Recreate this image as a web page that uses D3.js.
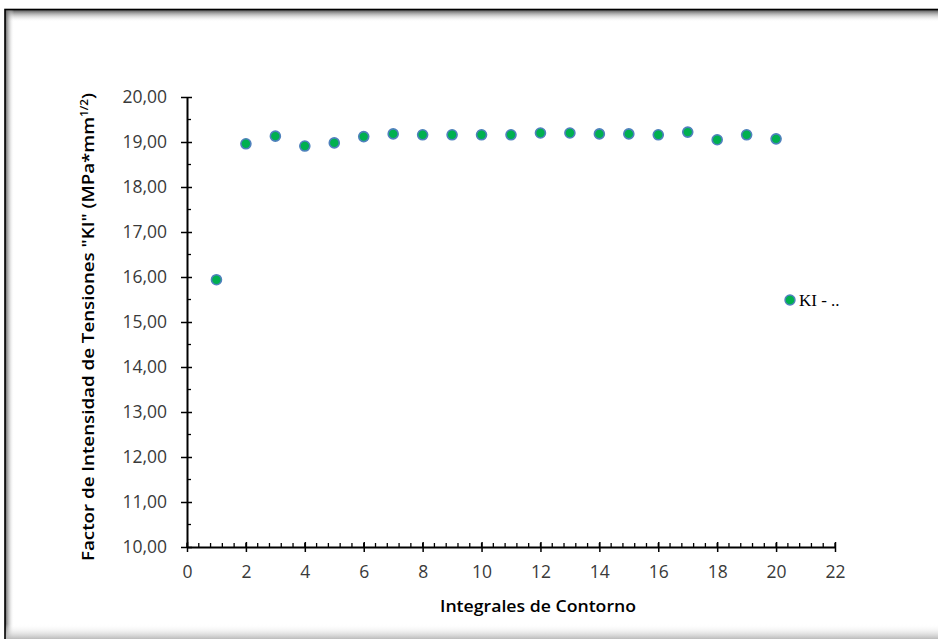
<!DOCTYPE html>
<html>
<head>
<meta charset="utf-8">
<script src="https://cdn.jsdelivr.net/npm/d3@7"></script>
<style>
  body { margin: 0; background: #fff; }
  svg { display: block; }
</style>
</head>
<body>
<svg id="chart"></svg>
<script>
// data
var contours = [1, 2, 3, 4, 5, 6, 7, 8, 9, 10, 11, 12, 13, 14, 15, 16, 17, 18, 19, 20];
var kiValues = [15.94, 18.96, 19.13, 18.91, 18.98, 19.12, 19.18, 19.16, 19.16, 19.16,
                19.16, 19.20, 19.20, 19.18, 19.18, 19.16, 19.22, 19.05, 19.16, 19.07];
var xTicks = [0, 2, 4, 6, 8, 10, 12, 14, 16, 18, 20, 22];
var yTicks = [10, 11, 12, 13, 14, 15, 16, 17, 18, 19, 20];
var seriesName = "KI - ..";

var W = 938, H = 639;
var margin = { top: 97, right: 103, bottom: 92, left: 187 },
  width = 835 - margin.left,
  height = 547 - margin.top;

var svg = d3.select("#chart").attr("width", W).attr("height", H);

// frame with soft inner shadow
var defs = svg.append("defs");
var gTop = defs.append("linearGradient").attr("id", "shTop").attr("x1", 0).attr("y1", 0).attr("x2", 0).attr("y2", 1);
gTop.append("stop").attr("offset", "0%").attr("stop-color", "#555");
gTop.append("stop").attr("offset", "100%").attr("stop-color", "#fff").attr("stop-opacity", 0);
var gLeft = defs.append("linearGradient").attr("id", "shLeft").attr("x1", 0).attr("y1", 0).attr("x2", 1).attr("y2", 0);
gLeft.append("stop").attr("offset", "0%").attr("stop-color", "#555");
gLeft.append("stop").attr("offset", "100%").attr("stop-color", "#fff").attr("stop-opacity", 0);
var gBot = defs.append("linearGradient").attr("id", "shBot").attr("x1", 0).attr("y1", 1).attr("x2", 0).attr("y2", 0);
gBot.append("stop").attr("offset", "0%").attr("stop-color", "#bbb");
gBot.append("stop").attr("offset", "100%").attr("stop-color", "#fff").attr("stop-opacity", 0);

svg.append("rect").attr("x", 5).attr("y", 10).attr("width", 940).attr("height", 12).attr("fill", "url(#shTop)");
svg.append("rect").attr("x", 5).attr("y", 10).attr("width", 9).attr("height", 640).attr("fill", "url(#shLeft)");
svg.append("rect").attr("x", 5).attr("y", 624).attr("width", 940).attr("height", 15).attr("fill", "url(#shBot)");
svg.append("rect").attr("x", 5).attr("y", 9.5).attr("width", 940).attr("height", 640)
  .attr("fill", "none").attr("stroke", "#000").attr("stroke-width", 1.6);

var g = svg.append("g")
  .attr("transform", "translate(" + margin.left + "," + margin.top + ")");

var x = d3.scaleLinear().domain([0, 22]).range([0, width]);
var y = d3.scaleLinear().domain([10, 20]).range([height, 0]);

var fmt = function (d) { return d3.format(".2f")(d).replace(".", ","); };

// minor ticks
g.append("g").selectAll("line")
  .data(d3.range(0, 22.001, 0.4))
  .join("line")
  .attr("x1", function (d) { return x(d); }).attr("x2", function (d) { return x(d); })
  .attr("y1", height).attr("y2", height - 4)
  .attr("stroke", "#000").attr("stroke-width", 1.3);
g.append("g").selectAll("line")
  .data(d3.range(10.5, 20, 1))
  .join("line")
  .attr("x1", 0).attr("x2", 4)
  .attr("y1", function (d) { return y(d); }).attr("y2", function (d) { return y(d); })
  .attr("stroke", "#000").attr("stroke-width", 1.3);

// x axis
var xAxis = g.append("g")
  .attr("transform", "translate(0," + height + ")")
  .call(d3.axisBottom(x).tickValues(xTicks).tickSize(4).tickSizeOuter(0).tickPadding(15));
xAxis.selectAll(".tick line").attr("y1", -5).attr("y2", 5).attr("stroke-width", 1.5);

// y axis
var yAxis = g.append("g")
  .call(d3.axisLeft(y).tickValues(yTicks).tickFormat(fmt).tickSize(5).tickSizeOuter(0).tickPadding(15));
yAxis.selectAll(".tick line").attr("x1", -6).attr("x2", 5).attr("stroke-width", 1.5);

[xAxis, yAxis].forEach(function (ax) {
  ax.select(".domain").attr("stroke", "#000").attr("stroke-width", 2);
  ax.selectAll("text")
    .style("font-family", "'Open Sans', 'Noto Sans', sans-serif")
    .style("font-size", "17.5px")
    .attr("fill", "#3a3a3a");
});

// axis titles
svg.append("text")
  .attr("x", 538).attr("y", 612)
  .attr("text-anchor", "middle")
  .style("font-family", "'Open Sans', 'Noto Sans', sans-serif")
  .style("font-size", "16px").style("font-weight", "600")
  .attr("textLength", 196).attr("lengthAdjust", "spacingAndGlyphs")
  .text("Integrales de Contorno");

var yt = svg.append("text")
  .attr("transform", "translate(94,327) rotate(-90)")
  .attr("text-anchor", "middle")
  .style("font-family", "'Open Sans', 'Noto Sans', sans-serif")
  .style("font-size", "16px").style("font-weight", "600")
  .attr("textLength", 468).attr("lengthAdjust", "spacingAndGlyphs");
yt.append("tspan").text("Factor de Intensidad de Tensiones \"KI\" (MPa*mm");
yt.append("tspan").attr("dy", -6).style("font-size", "10px").text("1/2");
yt.append("tspan").attr("dy", 6).text(")");

// points
var blur = defs.append("filter").attr("id", "soft");
blur.append("feGaussianBlur").attr("stdDeviation", 0.6);

g.append("g").selectAll("circle")
  .data(contours)
  .join("circle")
  .attr("cx", function (d) { return x(d); })
  .attr("cy", function (d, i) { return y(kiValues[i]); })
  .attr("r", 5)
  .attr("fill", "#00b050")
  .attr("stroke", "#4f81bd")
  .attr("stroke-width", 1.6)
  .attr("filter", "url(#soft)");

// legend
svg.append("circle")
  .attr("cx", 790).attr("cy", 300).attr("r", 5)
  .attr("fill", "#00b050").attr("stroke", "#4f81bd").attr("stroke-width", 1.4)
  .attr("filter", "url(#soft)");
svg.append("text")
  .attr("x", 799).attr("y", 306)
  .style("font-family", "'Liberation Serif', 'DejaVu Serif', serif")
  .style("font-size", "17px")
  .text(seriesName);
</script>
</body>
</html>
